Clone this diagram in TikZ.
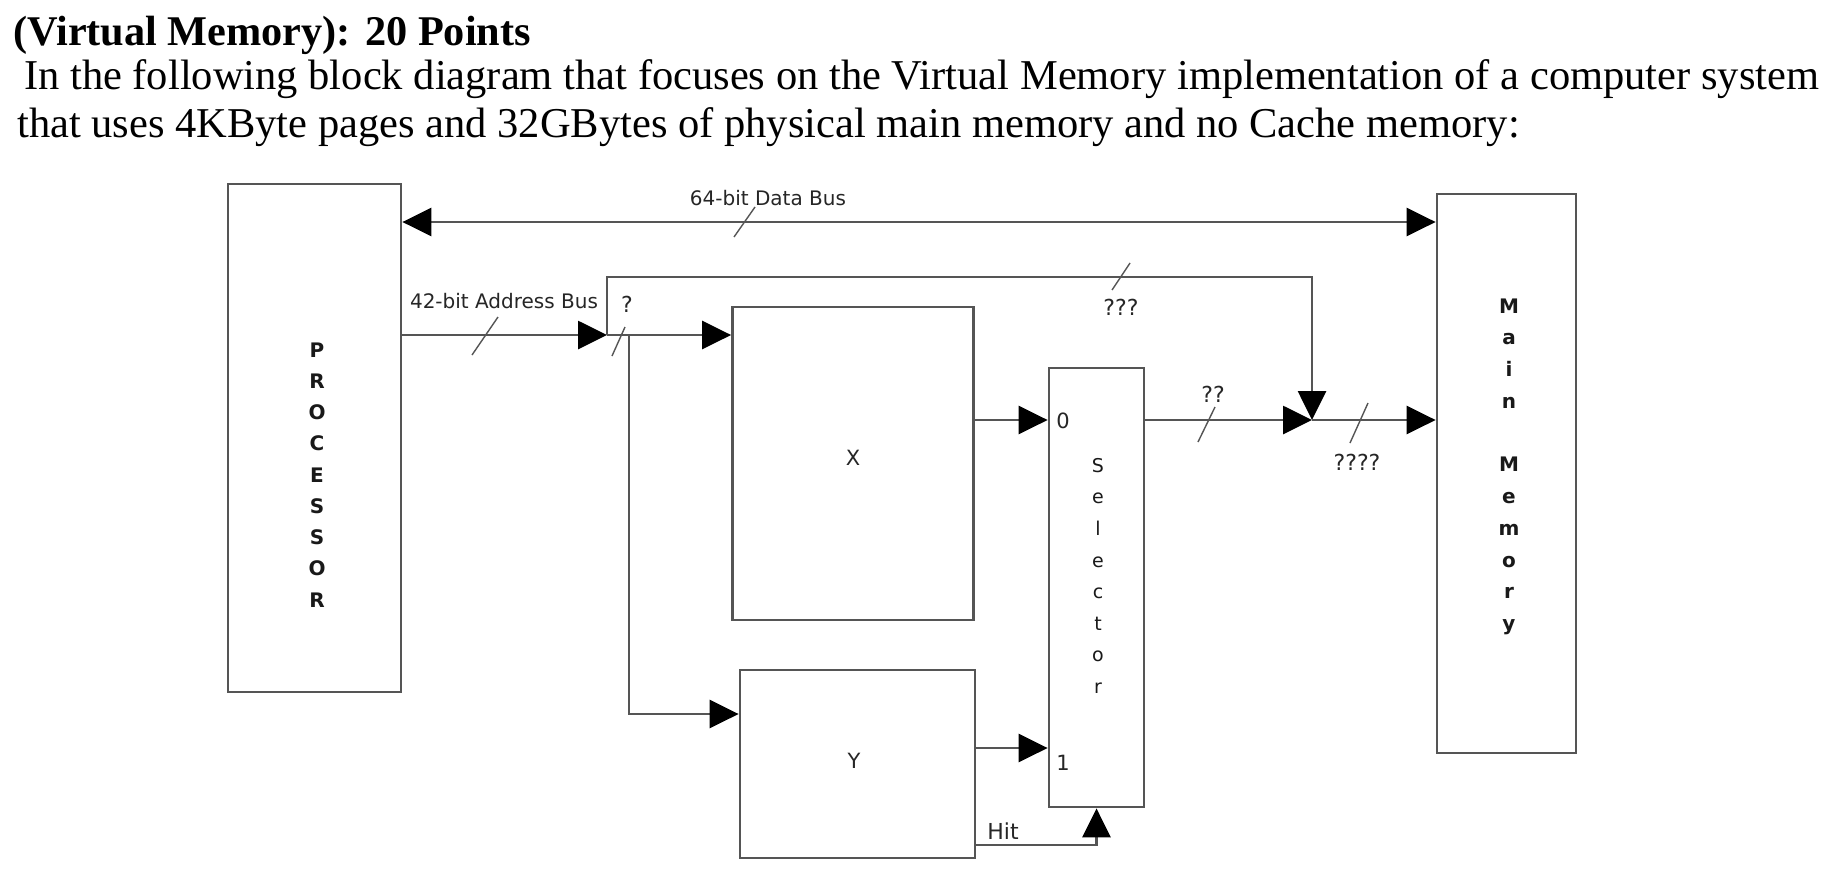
\documentclass[tikz,border=0pt]{standalone}
\usepackage{fontspec}
\setmainfont{Liberation Serif}
\newfontfamily\labfont{DejaVu Sans}
\usetikzlibrary{arrows.meta}
\definecolor{ln}{RGB}{85,85,85}
\begin{document}
\begin{tikzpicture}[x=1pt,y=-1pt,
  >={Triangle[length=29pt,width=28pt,color=black]},
  conn/.style={draw=ln,line width=2.8pt},
  blk/.style={draw=ln,line width=2.8pt,fill=white,inner sep=0pt,rectangle},
  lab/.style={inner sep=0pt,anchor=base,font=\labfont\fontsize{20}{24}\selectfont,text=black!85},
  qlab/.style={inner sep=0pt,anchor=base,font=\labfont\fontsize{22}{26}\selectfont,text=black!85},
  vtxt/.style={inner sep=0pt,anchor=north,align=center,text=black!90},
  tick/.style={draw=ln,line width=1.4pt},
  ttl/.style={inner sep=0pt,anchor=base west,font=\fontsize{42.5}{48}\selectfont}]
\useasboundingbox (0,0) rectangle (1834,884);
\fill[white] (0,0) rectangle (1834,884);

% title text
\node[ttl,font=\bfseries\fontsize{42.3}{48}\selectfont] (t1) at (13,45) {(Virtual Memory): 20 Points};
\node[ttl] (t2) at (24,89) {In the following block diagram that focuses on the Virtual Memory implementation of a computer system};
\node[ttl] (t3) at (17,137) {that uses 4KByte pages and 32GBytes of physical main memory and no Cache memory:};

% blocks
\node[blk,minimum width=173pt,minimum height=508pt] (proc) at (314.5,438) {};
\node[blk,minimum width=139pt,minimum height=559pt] (mem) at (1506.5,473.5) {};
\node[blk,minimum width=241pt,minimum height=313pt] (xbox) at (853,463.5) {};
\node[blk,minimum width=95pt,minimum height=439pt] (sel) at (1096.5,587.5) {};
\node[blk,minimum width=235pt,minimum height=188pt] (ybox) at (857.5,764) {};

% block texts
\node[vtxt,font=\labfont\bfseries\fontsize{20}{31.25}\selectfont] (proctext) at (317,342.4) {P\\R\\O\\C\\E\\S\\S\\O\\R};
\node[vtxt,font=\labfont\bfseries\fontsize{20}{31.75}\selectfont] (memtext) at (1509,298.4) {M\\a\\i\\n\\[31.75pt]M\\e\\m\\o\\r\\y};
\node[vtxt,font=\labfont\fontsize{19}{31.6}\selectfont] (seltext) at (1098,458) {S\\e\\l\\e\\c\\t\\o\\r};
\node[lab,font=\labfont\fontsize{21}{24}\selectfont] (xlab) at (853,465) {X};
\node[lab,font=\labfont\fontsize{21}{24}\selectfont] (ylab) at (854,768) {Y};

% helper coordinates
\coordinate (dy) at (0,222);
\coordinate (ja) at (607,335);
\coordinate (jb) at (629,335);
\coordinate (jt) at (607,277);
\coordinate (jr) at (1312,277);
\coordinate (jm) at (1312,420);
\coordinate (jy) at (0,714);
\coordinate (j0) at (0,420);
\coordinate (j1) at (0,748);
\coordinate (jh) at (0,845);

% connectors
\draw[conn,<->] (proc.east |- dy) -- (mem.west |- dy);
\draw[conn,->] (proc.east |- ja) -- (ja);
\draw[conn,->] (ja) -- (xbox.west |- ja);
\draw[conn,->] (jb) |- (ybox.west |- jy);
\draw[conn,->] (ja) -- (jt) -- (jr) -- (jm);
\draw[conn,->] (xbox.east |- j0) -- (sel.west |- j0);
\draw[conn,->] (sel.east |- j0) -- (jm);
\draw[conn,->] (jm) -- (mem.west |- jm);
\draw[conn,->] (ybox.east |- j1) -- (sel.west |- j1);
\draw[conn,->] (ybox.east |- jh) -| (sel.south);

% bus-width ticks
\draw[tick] (734,237) -- (755,207);
\draw[tick] (472,355) -- (498,317);
\draw[tick] (612,356) -- (625,327);
\draw[tick] (1112,290) -- (1130,263);
\draw[tick] (1198,442) -- (1215,407);
\draw[tick] (1350,443) -- (1368,403);

% labels
\node[lab] (ldata) at (768,205) {64-bit Data Bus};
\node[lab] (laddr) at (504,308) {42-bit Address Bus};
\node[qlab] (q1) at (627,312) {?};
\node[qlab] (q3) at (1121,315) {???};
\node[qlab] (q2) at (1213,402) {??};
\node[qlab] (q4) at (1357,470) {????};
\node[lab,font=\labfont\fontsize{21}{24}\selectfont] (l0) at (1063,428) {0};
\node[lab,font=\labfont\fontsize{21}{24}\selectfont] (l1) at (1063,770) {1};
\node[lab,font=\labfont\fontsize{22}{24}\selectfont] (lhit) at (1003,839) {Hit};
\end{tikzpicture}
\end{document}
